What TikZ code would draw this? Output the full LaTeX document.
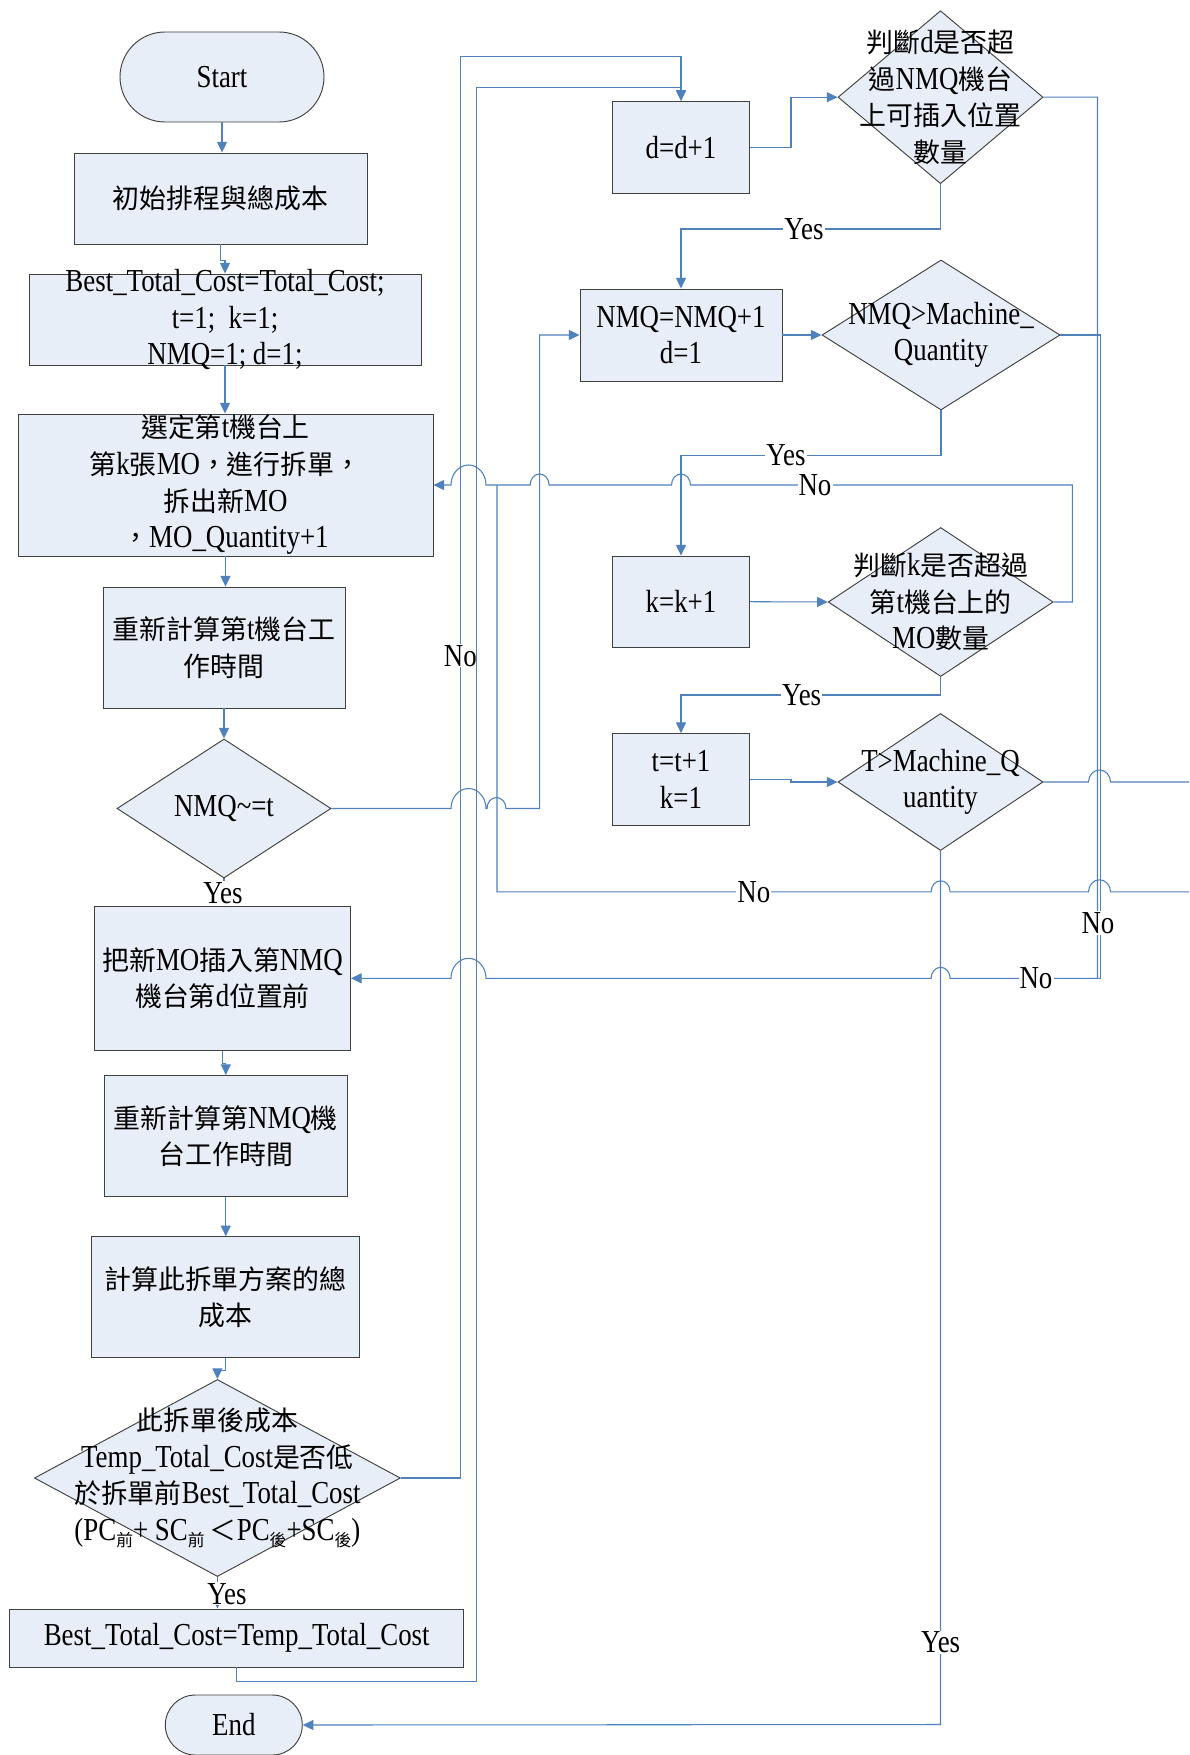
\documentclass[tikz,border=0pt]{standalone}
\usepackage{fontspec}
\setmainfont{Liberation Serif}[FakeStretch=0.84]
\newfontfamily\cjk{Noto Sans CJK TC}[Scale=0.84]
\usetikzlibrary{shapes.geometric,shapes.misc,arrows.meta}
\definecolor{lc}{HTML}{4F81BD}
\definecolor{bf}{HTML}{E8EEF7}
\definecolor{bd}{HTML}{404040}
\newcommand{\C}[1]{{\cjk #1}}
\newcommand{\Sb}[1]{\raisebox{-4.5pt}{\fontsize{15pt}{15pt}\selectfont\cjk #1}}
\tikzset{
  box/.style={rectangle, draw=bd, fill=bf, line width=0.7pt, inner sep=0pt},
  dia/.style={diamond, draw=bd, fill=bf, line width=0.7pt, inner sep=0pt},
  term/.style={rounded rectangle, draw=bd, fill=bf, line width=0.7pt, inner sep=0pt},
  txt/.style={align=center, inner sep=0pt, font=\fontsize{24pt}{27.5pt}\selectfont},
  lbl/.style={fill=white, inner sep=0.8pt, font=\fontsize{24pt}{27.5pt}\selectfont},
  conn/.style={draw=lc, line width=0.8pt},
  arr/.style={conn, -{Triangle[length=8pt,width=7.5pt]}},
  sj/.style={x radius=7.125pt, y radius=8.25pt},
  bj/.style={x radius=13.125pt, y radius=15pt},
  dj/.style={x radius=8.25pt, y radius=9pt},
}
\begin{document}
\begin{tikzpicture}[x=0.75pt,y=-0.75pt]
\fill[white] (0,0) rectangle (1189,1755);
\useasboundingbox (0,0) rectangle (1189,1755);

% ---------- left column ----------
\node[term, minimum width=153pt, minimum height=67.5pt] (S) at (222,77) {};
\node[txt] (St) at (S.center) {Start};
\node[box, minimum width=219.75pt, minimum height=68.25pt] (A) at (220.5,198.5) {};
\node[txt] (At) at (A.center) {\C{初始排程與總成本}};
\node[box, minimum width=294pt, minimum height=68.25pt] (B) at (225,319.5) {};
\node[txt] (Bt) at (B.center) {Best\_Total\_Cost=Total\_Cost;\\t=1;\ \ k=1;\\NMQ=1; d=1;};
\node[box, minimum width=311.25pt, minimum height=106.5pt] (Cb) at (225.5,485) {};
\node[txt] (Ct) at (Cb.center) {\C{選定第}t\C{機台上}\\\C{第}k\C{張}MO\C{，進行拆單，}\\\C{拆出新}MO\\\C{，}MO\_Quantity+1};
\node[box, minimum width=181.5pt, minimum height=90.75pt] (D) at (224,647.5) {};
\node[txt] (Dt) at (D.center) {\C{重新計算第}t\C{機台工}\\\C{作時間}};
\node[dia, minimum width=160.5pt, minimum height=104.25pt] (E) at (224,808.5) {};
\node[txt] (Et) at (E.center) {NMQ\textasciitilde=t};
\node[box, minimum width=192pt, minimum height=108.45pt] (F) at (222.5,978.3) {};
\node[txt] (Ft) at (F.center) {\C{把新}MO\C{插入第}NMQ\\\C{機台第}d\C{位置前}};
\node[box, minimum width=182.6pt, minimum height=91.1pt] (G) at (225.8,1136.2) {};
\node[txt] (Gt) at (G.center) {\C{重新計算第}NMQ\C{機}\\\C{台工作時間}};
\node[box, minimum width=201.5pt, minimum height=90.75pt] (H) at (225.4,1297.2) {};
\node[txt] (Ht) at (H.center) {\C{計算此拆單方案的總}\\\C{成本}};
\node[dia, minimum width=274.5pt, minimum height=147.75pt] (I) at (217.4,1478) {};
\node[txt] (It) at (I.center) {\C{此拆單後成本}\\Temp\_Total\_Cost\C{是否低}\\\C{於拆單前}Best\_Total\_Cost\\(PC\Sb{前}+ SC\Sb{前}\,\C{＜}PC\Sb{後}+SC\Sb{後})};
\node[box, minimum width=340.5pt, minimum height=43.5pt] (J) at (236.7,1638) {};
\node[txt] (Jt) at (J.center) {Best\_Total\_Cost=Temp\_Total\_Cost};
\node[term, minimum width=102.75pt, minimum height=45pt] (End) at (233.8,1725) {};
\node[txt] (Endt) at (End.center) {End};

% ---------- right column ----------
\node[box, minimum width=102.75pt, minimum height=69pt] (K) at (681,147.3) {};
\node[txt] (Kt) at (K.center) {d=d+1};
\node[dia, minimum width=153.75pt, minimum height=129.75pt] (L) at (940.5,97.2) {};
\node[txt] (Lt) at (L.center) {\C{判斷}d\C{是否超}\\\C{過}NMQ\C{機台}\\\C{上可插入位置}\\\C{數量}};
\node[box, minimum width=151.5pt, minimum height=69pt] (M) at (681,335) {};
\node[txt] (Mt) at (M.center) {NMQ=NMQ+1\\d=1};
\node[dia, minimum width=178.5pt, minimum height=112.5pt] (N) at (941,335) {};
\node[txt] (Nt) at (N.center) {NMQ>Machine\_\\Quantity};
\node[box, minimum width=102.75pt, minimum height=68.5pt] (O) at (681,601.7) {};
\node[txt] (Ot) at (O.center) {k=k+1};
\node[dia, minimum width=168.75pt, minimum height=111.75pt] (P) at (940.7,602) {};
\node[txt] (Pt) at (P.center) {\C{判斷}k\C{是否超過}\\\C{第}t\C{機台上的}\\MO\C{數量}};
\node[box, minimum width=102.75pt, minimum height=68.6pt] (Q) at (681,779.3) {};
\node[txt] (Qt) at (Q.center) {t=t+1\\k=1};
\node[dia, minimum width=153.75pt, minimum height=102.75pt] (R) at (940.5,782) {};
\node[txt] (Rt) at (R.center) {T>Machine\_Q\\uantity};

\coordinate (eR) at (1189,782);
\coordinate (eN) at (1189,891.8);
\coordinate (jC) at (497,485);
\coordinate (jF) at (1097.5,978.3);

% ---------- connectors, left column ----------
\draw[arr] (S.south) -- (S.south |- A.north);
\draw[arr] (A.south) -- ++(0,16) -| (B.north);
\draw[arr] (B.south) -- (B.south |- Cb.north);
\draw[arr] (Cb.south) -- (Cb.south |- D.north);
\draw[arr] (D.south) -- (D.south |- E.north);
\draw[arr] (E.south) -- (E.south |- F.north);
\draw[arr] (F.south) -- ++(0,12) -| (G.north);
\draw[arr] (G.south) -- (G.south |- H.north);
\draw[arr] (H.south) -- ++(0,12) -| (I.north);
\draw[arr] (I.south) -- (I.south |- J.north);

% I (No) -> K
\draw[arr] (I.east) -- (460.4,1478) -- (460.4,56.3) -- (681,56.3) -- (K.north);
\node[lbl] (noI) at (460.4,655.7) {No};
% J -> K
\draw[arr] (J.south) -- (236.7,1681.7) -- (476.8,1681.7) -- (476.8,87.3) -- (681,87.3) -- (K.north);

% ---------- connectors, right column ----------
\draw[arr] (K.east) -- (791,147.3) -- (791,97.2) -- (L.west);
\draw[arr] (L.south) -- (940.5,229) -- (681,229) -- (M.north);
\draw[arr] (M.east) -- (N.west);
\draw[arr] (N.south) -- (941,455.4) -- (681,455.4) -- (O.north);
\draw[arr] (O.east) -- (P.west);
\draw[arr] (P.south) -- (940.7,695) -- (681,695) -- (Q.north);
\draw[arr] (Q.east) -- (791,779.3) -- (791,782) -- (R.west);
\draw[arr] (R.south) -- (940.5,1724.5) -- (End.east);

% L (No) -> F, N (No) joins
\draw[arr] (L.east) -- (1097.5,97.2) -- (jF) -- (950.1,978.3)
  arc[start angle=0, end angle=180, sj] -- (486,978.3)
  arc[start angle=0, end angle=180, bj] -- (F.east);
\draw[conn] (N.east) -- (1100.8,335) -- (1100.8,978.3) -- (jF);

% P (No) -> C
\draw[arr] (P.east) -- (1072.3,602) -- (1072.3,485) -- (690.5,485)
  arc[start angle=0, end angle=180, sj] -- (549.1,485)
  arc[start angle=0, end angle=180, sj] -- (486,485)
  arc[start angle=0, end angle=180, bj] -- (Cb.east);

% R (No) -> out to the right, and back in
\draw[conn] (R.east) -- (1088.5,782) arc[start angle=180, end angle=0, dj] -- (eR);
\draw[conn] (eN) -- (1110.5,891.8) arc[start angle=0, end angle=180, dj]
  -- (950.1,891.8) arc[start angle=0, end angle=180, sj] -- (497,891.8) -- (jC);

% E (No) -> M
\draw[arr] (E.east) -- (451,808.5) arc[start angle=180, end angle=0, bj]
  -- (487,808.5) arc[start angle=180, end angle=0, sj]
  -- (539.6,808.5) -- (539.6,335) -- (M.west);

% ---------- labels ----------
\node[lbl] (yE) at (223,893) {Yes};
\node[lbl] (yI) at (227,1593.7) {Yes};
\node[lbl] (yL) at (804,229) {Yes};
\node[lbl] (yN) at (786,455.4) {Yes};
\node[lbl] (yP) at (801.6,695) {Yes};
\node[lbl] (yR) at (940.6,1642.6) {Yes};
\node[lbl] (nP) at (815,485) {No};
\node[lbl] (nR) at (753.8,891.8) {No};
\node[lbl] (nLv) at (1098,923) {No};
\node[lbl] (nLh) at (1036,978.3) {No};
\end{tikzpicture}
\end{document}
